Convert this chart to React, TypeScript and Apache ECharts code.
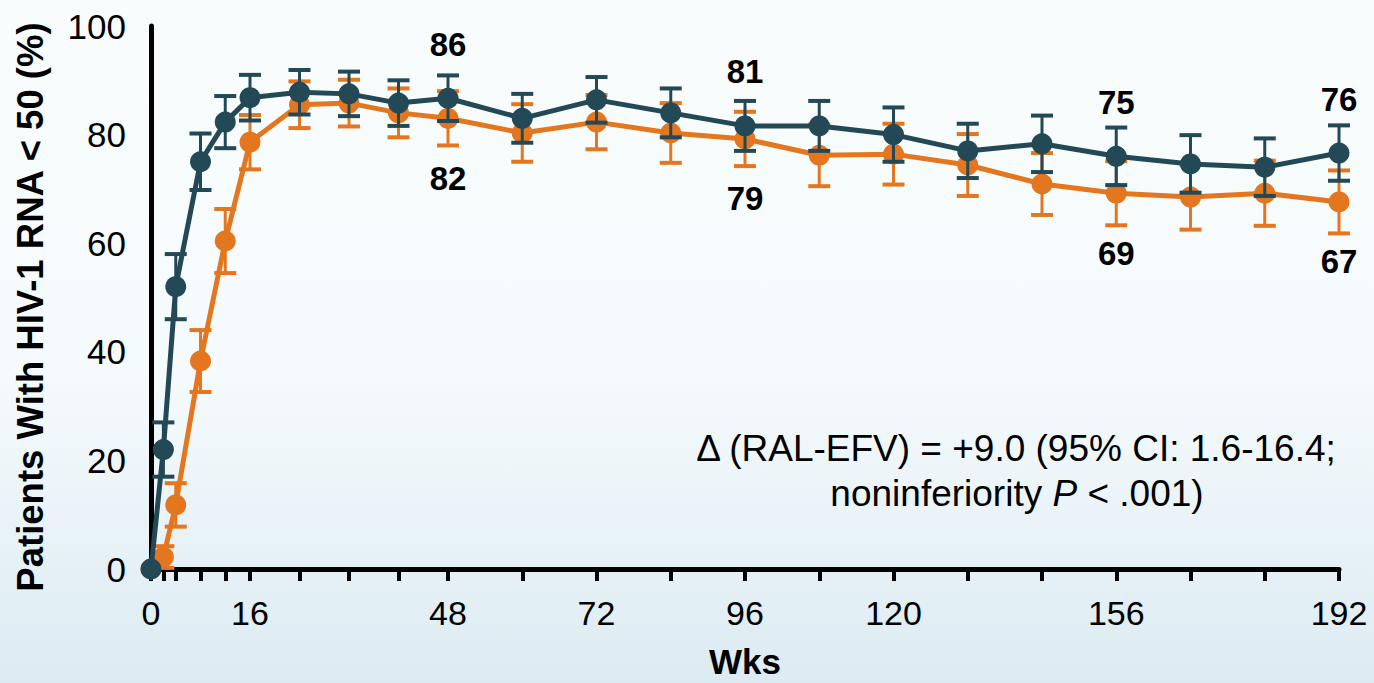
import React, { useEffect, useRef } from "react";
import * as echarts from "echarts";

const weeks = [0, 2, 4, 8, 12, 16, 24, 32, 40, 48, 60, 72, 84, 96, 108, 120, 132, 144, 156, 168, 180, 192];
const ralValues = [0, 22, 52, 75, 82.3, 86.8, 87.8, 87.5, 85.8, 86.7, 83, 86.4, 84, 81.6, 81.6, 80, 77, 78.3, 76, 74.6, 74, 76.6];
const efvValues = [0, 2.2, 11.8, 38.3, 60.4, 78.6, 85.5, 85.8, 84, 83, 80.3, 82.3, 80.3, 79.2, 76.2, 76.4, 74.4, 70.9, 69.2, 68.5, 69.2, 67.6];
const ralErr = [0, 5, 6, 5.2, 4.8, 4.2, 4.1, 4.1, 4.2, 4.2, 4.5, 4.2, 4.5, 4.6, 4.6, 5, 5, 5.2, 5.3, 5.3, 5.3, 5.1];
const efvErr = [0, 2, 4, 5.7, 5.9, 5, 4.3, 4.3, 4.5, 5, 5.3, 5, 5.5, 5, 5.7, 5.6, 5.7, 5.7, 5.9, 6, 6, 5.8];
const ralLabels: Record<number, string> = { 48: "86", 96: "81", 156: "75", 192: "76" };
const efvLabels: Record<number, string> = { 48: "82", 96: "79", 156: "69", 192: "67" };
const xTickValues = [0, 2, 4, 8, 12, 16, 24, 32, 40, 48, 60, 72, 84, 96, 108, 120, 132, 144, 156, 168, 180, 192];
const xLabelValues = [0, 16, 48, 72, 96, 120, 156, 192];
const yAxisTitle = "Patients With HIV-1 RNA < 50 (%)";
const xAxisTitle = "Wks";
const noteLine1 = "\u0394 (RAL-EFV) = +9.0 (95% CI: 1.6-16.4;";
const noteLine2 = "{a|noninferiority }{b|P}{a| < .001)}";

const BLUE = "#234856";
const ORANGE = "#E3761E";
const FONT = "'Liberation Sans', Arial, sans-serif";

function errorSeries(name: string, vals: number[], errs: number[], color: string, z: number) {
  return {
    name,
    type: "custom",
    z,
    data: weeks.map((w, i) => [w, vals[i] - errs[i], vals[i] + errs[i]]),
    encode: { x: 0, y: [1, 2] },
    renderItem: (_p: any, api: any) => {
      const x = api.value(0);
      const lo = api.value(1);
      const hi = api.value(2);
      if (hi - lo < 0.01) return { type: "group", children: [] };
      const a = api.coord([x, lo]);
      const b = api.coord([x, hi]);
      const w = 11;
      return {
        type: "group",
        children: [
          { type: "line", shape: { x1: a[0], y1: a[1], x2: b[0], y2: b[1] }, style: { stroke: color, lineWidth: 3 } },
          { type: "line", shape: { x1: a[0] - w, y1: a[1], x2: a[0] + w, y2: a[1] }, style: { stroke: color, lineWidth: 4 } },
          { type: "line", shape: { x1: b[0] - w, y1: b[1], x2: b[0] + w, y2: b[1] }, style: { stroke: color, lineWidth: 4 } },
        ],
      };
    },
  };
}

function lineSeries(name: string, vals: number[], labels: Record<number, string>, color: string, z: number, pos: string, dist: number) {
  return {
    name,
    type: "line",
    z,
    symbol: "circle",
    symbolSize: 21,
    lineStyle: { color, width: 5 },
    itemStyle: { color },
    data: weeks.map((w, i) => {
      const item: any = { value: [w, vals[i]] };
      if (labels[w]) {
        item.label = {
          show: true,
          position: pos,
          distance: dist,
          formatter: labels[w],
          fontSize: 33,
          fontWeight: "bold",
          color: "#000",
          fontFamily: FONT,
        };
      }
      return item;
    }),
  };
}

export default function App() {
  const ref = useRef<HTMLDivElement>(null);
  useEffect(() => {
    if (!ref.current) return;
    const chart = echarts.init(ref.current, undefined, { renderer: "svg" });
    chart.setOption({
      animation: false,
      textStyle: { fontFamily: FONT },
      grid: { left: 151, right: 35, top: 26, bottom: 114, containLabel: false, outerBoundsMode: "none" },
      xAxis: {
        type: "value",
        min: 0,
        max: 192,
        name: xAxisTitle,
        nameLocation: "middle",
        nameGap: 75,
        nameTextStyle: { fontSize: 35, fontWeight: "bold", color: "#000", fontFamily: FONT },
        axisLine: { lineStyle: { color: "#000", width: 5 } },
        axisTick: { show: true, length: 12, lineStyle: { color: "#000", width: 4 }, customValues: xTickValues },
        axisLabel: { fontSize: 34, color: "#000", margin: 27, customValues: xLabelValues, fontFamily: FONT },
        splitLine: { show: false },
      },
      yAxis: {
        type: "value",
        min: 0,
        max: 100,
        interval: 20,
        axisLine: { show: true, lineStyle: { color: "#000", width: 5 } },
        axisTick: { show: false },
        axisLabel: { fontSize: 35, color: "#000", margin: 25, fontFamily: FONT },
        splitLine: { show: false },
      },
      graphic: [
        {
          type: "text",
          x: 30,
          y: 307,
          rotation: Math.PI / 2,
          style: {
            text: yAxisTitle,
            align: "center",
            verticalAlign: "middle",
            fontSize: 36.5,
            fontWeight: "bold",
            fill: "#000",
            fontFamily: FONT,
          },
        },
        {
          type: "text",
          x: 1016,
          y: 448,
          style: {
            text: noteLine1,
            align: "center",
            verticalAlign: "middle",
            fontSize: 37,
            fill: "#000",
            fontFamily: FONT,
          },
        },
        {
          type: "text",
          x: 1017,
          y: 493,
          style: {
            text: noteLine2,
            align: "center",
            verticalAlign: "middle",
            fontSize: 37,
            fill: "#000",
            fontFamily: FONT,
            rich: {
              a: { fontSize: 37, fontFamily: FONT, fill: "#000" },
              b: { fontSize: 37, fontFamily: FONT, fontStyle: "italic", fill: "#000" },
            },
          },
        },
      ],
      series: [
        errorSeries("EFV err", efvValues, efvErr, ORANGE, 2),
        lineSeries("EFV", efvValues, efvLabels, ORANGE, 3, "bottom", 33),
        errorSeries("RAL err", ralValues, ralErr, BLUE, 4),
        lineSeries("RAL", ralValues, ralLabels, BLUE, 5, "top", 27),
      ],
    });
    return () => chart.dispose();
  }, []);
  return (
    <div
      style={{
        position: "fixed",
        left: 0,
        top: 0,
        width: 1374,
        height: 683,
        background: "linear-gradient(to bottom, #F8FCFD 0%, #F5FAFC 55%, #DCEBF2 100%)",
      }}
    >
      <div ref={ref} style={{ width: 1374, height: 683 }} />
    </div>
  );
}
